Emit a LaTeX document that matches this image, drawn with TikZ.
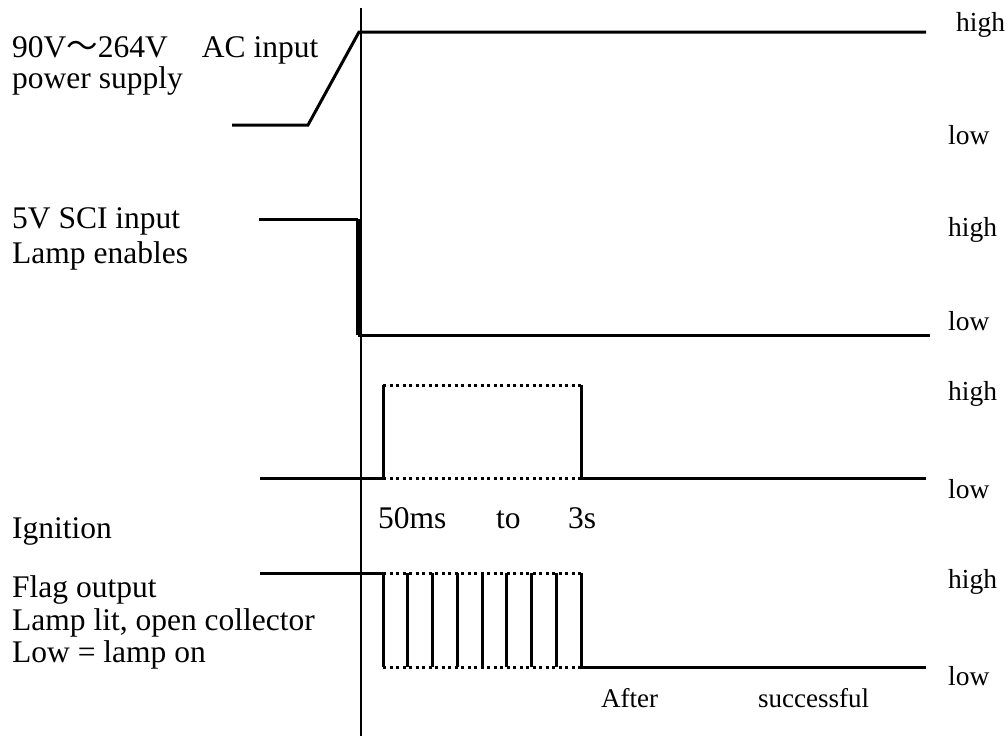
\documentclass[tikz,border=0pt]{standalone}
\usepackage{fontspec}
\setmainfont{Liberation Serif}
\newfontfamily\cjk{Noto Sans CJK SC}
\usetikzlibrary{positioning}

\begin{document}
\begin{tikzpicture}[
  x=1pt, y=-1pt,
  sig/.style={line width=3pt, line join=miter},
  edge/.style={line width=5pt},
  dots/.style={line width=3pt, dash pattern=on 3pt off 3.5pt},
  marker/.style={line width=1.5pt},
  signame/.style={font=\fontsize{31.5}{36}\selectfont, anchor=base west, inner sep=0pt},
  level/.style={font=\fontsize{27.5}{30}\selectfont, anchor=base west, inner sep=0pt},
  note/.style={font=\fontsize{27}{30}\selectfont, anchor=base west, inner sep=0pt}]

\useasboundingbox (0,0) rectangle (1008,736);

% ---------- signal names ----------
\node[signame] (ac1)  at (12,57)  {90V{\cjk ～}264V\hspace{34pt}AC input};
\node[signame] (ac2)  at (12,88)  {power supply};
\node[signame] (sci1) at (12,228) {5V SCI input};
\node[signame] (sci2) at (12,263) {Lamp enables};
\node[signame] (ign)  at (12,538) {Ignition};
\node[signame] (flg1) at (12,597) {Flag output};
\node[signame] (flg2) at (12,630) {Lamp lit, open collector};
\node[signame] (flg3) at (12,662) {Low = lamp on};

% ---------- levels ----------
\node[level] (hi1) at (956,31)  {high};
\node[level] (lo1) at (948,144) {low};
\node[level] (hi2) at (948,236) {high};
\node[level] (lo2) at (948,330) {low};
\node[level] (hi3) at (948,400) {high};
\node[level] (lo3) at (948,498) {low};
\node[level] (hi4) at (948,588) {high};
\node[level] (lo4) at (948,685) {low};

% ---------- time marks ----------
\node[signame] (t0) at (378,528) {50ms};
\node[signame] (t1) at (496,528) {to};
\node[signame] (t2) at (568,528) {3s};
\node[note] (after) at (601,707) {After};
\node[note] (succ)  at (758,707) {successful};

% ---------- power-on instant ----------
\draw[marker] (361,8) -- (361,736);

% ---------- AC input ----------
\draw[sig] (232,125) -- (308,125) -- (359,32) -- (926,32);

% ---------- SCI input ----------
\draw[sig] (259,219) -- (358,219);
\draw[edge] (358,219) -- (358,335);
\draw[sig] (358,335) -- (930,335);

% ---------- ignition ----------
\draw[sig] (260,478) -- (383,478) -- (383,385);
\draw[dots] (383,385) -- (581,385);
\draw[dots] (383,478) -- (581,478);
\draw[sig] (581,385) -- (581,478) -- (926,478);

% ---------- flag output ----------
\draw[sig] (260,573) -- (383,573);
\foreach \x in {383,407.7,432.7,457.7,482.5,506.5,531.3,556.3,581}
  \draw[sig] (\x,573) -- (\x,667);
\draw[dots] (383,573) -- (581,573);
\draw[dots] (383,667) -- (581,667);
\draw[sig] (581,667) -- (926,667);
\end{tikzpicture}
\end{document}
